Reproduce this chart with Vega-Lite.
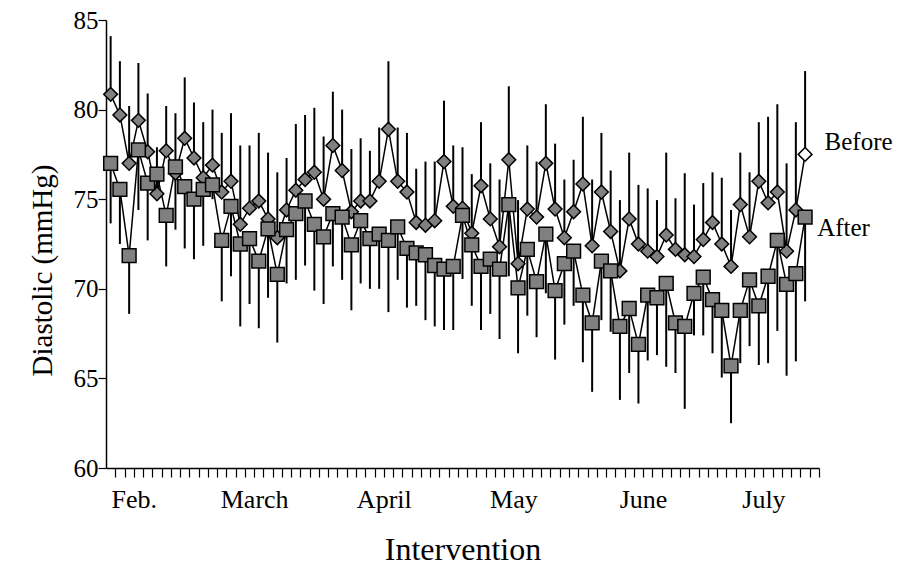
{
  "$schema": "https://vega.github.io/schema/vega-lite/v6.json",
  "width": 713,
  "height": 448,
  "autosize": {"type": "none"},
  "padding": {"left": 106, "top": 20, "right": 82, "bottom": 98},
  "background": "white",
  "config": {
    "view": {"stroke": null},
    "font": "Liberation Serif",
    "axis": {
      "grid": false,
      "domainColor": "black",
      "domainWidth": 1.5,
      "tickColor": "black",
      "tickWidth": 1.2,
      "labelColor": "black",
      "titleColor": "black",
      "labelFont": "Liberation Serif",
      "titleFont": "Liberation Serif",
      "titleFontWeight": "normal"
    }
  },
  "datasets": {
    "bp": [
      {"i": 1, "series": "Before", "value": 80.85, "bar": 84.1},
      {"i": 2, "series": "Before", "value": 79.7, "bar": 82.7},
      {"i": 3, "series": "Before", "value": 77.0, "bar": 80.2},
      {"i": 4, "series": "Before", "value": 79.4, "bar": 82.6},
      {"i": 5, "series": "Before", "value": 77.65, "bar": 80.9},
      {"i": 6, "series": "Before", "value": 75.3, "bar": 77.9},
      {"i": 7, "series": "Before", "value": 77.7, "bar": 80.2},
      {"i": 8, "series": "Before", "value": 76.45, "bar": 79.8},
      {"i": 9, "series": "Before", "value": 78.4, "bar": 81.8},
      {"i": 10, "series": "Before", "value": 77.3, "bar": 80.4},
      {"i": 11, "series": "Before", "value": 76.2, "bar": 79.3},
      {"i": 12, "series": "Before", "value": 76.9, "bar": 80.0},
      {"i": 13, "series": "Before", "value": 75.4, "bar": 78.7},
      {"i": 14, "series": "Before", "value": 76.0, "bar": 79.8},
      {"i": 15, "series": "Before", "value": 73.6, "bar": 78.0},
      {"i": 16, "series": "Before", "value": 74.5, "bar": 78.0},
      {"i": 17, "series": "Before", "value": 74.9, "bar": 78.7},
      {"i": 18, "series": "Before", "value": 73.9, "bar": 77.6},
      {"i": 19, "series": "Before", "value": 72.85, "bar": 76.5},
      {"i": 20, "series": "Before", "value": 74.4, "bar": 77.3},
      {"i": 21, "series": "Before", "value": 75.5, "bar": 79.2},
      {"i": 22, "series": "Before", "value": 76.1, "bar": 79.7},
      {"i": 23, "series": "Before", "value": 76.5, "bar": 80.1},
      {"i": 24, "series": "Before", "value": 75.0, "bar": 78.5},
      {"i": 25, "series": "Before", "value": 78.0, "bar": 81.0},
      {"i": 26, "series": "Before", "value": 76.6, "bar": 80.0},
      {"i": 27, "series": "Before", "value": 74.3, "bar": 77.8},
      {"i": 28, "series": "Before", "value": 74.9, "bar": 78.4},
      {"i": 29, "series": "Before", "value": 74.9, "bar": 77.7},
      {"i": 30, "series": "Before", "value": 76.0, "bar": 79.0},
      {"i": 31, "series": "Before", "value": 78.9, "bar": 82.7},
      {"i": 32, "series": "Before", "value": 76.0, "bar": 79.0},
      {"i": 33, "series": "Before", "value": 75.4, "bar": 78.7},
      {"i": 34, "series": "Before", "value": 73.7, "bar": 76.7},
      {"i": 35, "series": "Before", "value": 73.55, "bar": 77.1},
      {"i": 36, "series": "Before", "value": 73.8, "bar": 77.1},
      {"i": 37, "series": "Before", "value": 77.1, "bar": 80.5},
      {"i": 38, "series": "Before", "value": 74.6, "bar": 78.0},
      {"i": 39, "series": "Before", "value": 74.5, "bar": 77.9},
      {"i": 40, "series": "Before", "value": 73.1, "bar": 76.4},
      {"i": 41, "series": "Before", "value": 75.75, "bar": 79.3},
      {"i": 42, "series": "Before", "value": 73.9, "bar": 77.0},
      {"i": 43, "series": "Before", "value": 72.35, "bar": 76.1},
      {"i": 44, "series": "Before", "value": 77.2, "bar": 81.3},
      {"i": 45, "series": "Before", "value": 71.4, "bar": 74.95},
      {"i": 46, "series": "Before", "value": 74.45, "bar": 78.0},
      {"i": 47, "series": "Before", "value": 74.0, "bar": 77.1},
      {"i": 48, "series": "Before", "value": 77.0, "bar": 80.3},
      {"i": 49, "series": "Before", "value": 74.45, "bar": 78.1},
      {"i": 50, "series": "Before", "value": 72.85, "bar": 76.1},
      {"i": 51, "series": "Before", "value": 74.3, "bar": 77.2},
      {"i": 52, "series": "Before", "value": 75.85, "bar": 79.6},
      {"i": 53, "series": "Before", "value": 72.4, "bar": 76.1},
      {"i": 54, "series": "Before", "value": 75.4, "bar": 78.7},
      {"i": 55, "series": "Before", "value": 73.2, "bar": 76.6},
      {"i": 56, "series": "Before", "value": 71.0, "bar": 74.95},
      {"i": 57, "series": "Before", "value": 73.9, "bar": 77.6},
      {"i": 58, "series": "Before", "value": 72.5, "bar": 75.8},
      {"i": 59, "series": "Before", "value": 72.1, "bar": 75.6},
      {"i": 60, "series": "Before", "value": 71.8, "bar": 74.95},
      {"i": 61, "series": "Before", "value": 73.0, "bar": 77.6},
      {"i": 62, "series": "Before", "value": 72.2, "bar": 75.05},
      {"i": 63, "series": "Before", "value": 71.9, "bar": 76.45},
      {"i": 64, "series": "Before", "value": 71.8, "bar": 74.7},
      {"i": 65, "series": "Before", "value": 72.75, "bar": 75.9},
      {"i": 66, "series": "Before", "value": 73.7, "bar": 76.5},
      {"i": 67, "series": "Before", "value": 72.5, "bar": 76.2},
      {"i": 68, "series": "Before", "value": 71.25, "bar": 74.4},
      {"i": 69, "series": "Before", "value": 74.7, "bar": 77.6},
      {"i": 70, "series": "Before", "value": 72.9, "bar": 76.5},
      {"i": 71, "series": "Before", "value": 76.0, "bar": 79.3},
      {"i": 72, "series": "Before", "value": 74.8, "bar": 79.6},
      {"i": 73, "series": "Before", "value": 75.4, "bar": 80.3},
      {"i": 74, "series": "Before", "value": 72.1, "bar": 77.0},
      {"i": 75, "series": "Before", "value": 74.4, "bar": 79.3},
      {"i": 76, "series": "Before", "value": 77.5, "bar": 82.15},
      {"i": 1, "series": "After", "value": 77.0, "bar": 73.65},
      {"i": 2, "series": "After", "value": 75.55, "bar": 72.5},
      {"i": 3, "series": "After", "value": 71.85, "bar": 68.6},
      {"i": 4, "series": "After", "value": 77.75, "bar": 74.4},
      {"i": 5, "series": "After", "value": 75.9, "bar": 72.7},
      {"i": 6, "series": "After", "value": 76.4, "bar": 75.1},
      {"i": 7, "series": "After", "value": 74.1, "bar": 71.25},
      {"i": 8, "series": "After", "value": 76.8, "bar": 73.3},
      {"i": 9, "series": "After", "value": 75.7, "bar": 72.25},
      {"i": 10, "series": "After", "value": 75.0, "bar": 71.65},
      {"i": 11, "series": "After", "value": 75.55, "bar": 72.4},
      {"i": 12, "series": "After", "value": 75.8, "bar": 75.0},
      {"i": 13, "series": "After", "value": 72.7, "bar": 69.3},
      {"i": 14, "series": "After", "value": 74.6, "bar": 70.7},
      {"i": 15, "series": "After", "value": 72.5, "bar": 67.9},
      {"i": 16, "series": "After", "value": 72.8, "bar": 69.15},
      {"i": 17, "series": "After", "value": 71.55, "bar": 67.8},
      {"i": 18, "series": "After", "value": 73.35, "bar": 69.5},
      {"i": 19, "series": "After", "value": 70.8, "bar": 67.0},
      {"i": 20, "series": "After", "value": 73.3, "bar": 70.3},
      {"i": 21, "series": "After", "value": 74.2, "bar": 70.5},
      {"i": 22, "series": "After", "value": 74.9, "bar": 71.3},
      {"i": 23, "series": "After", "value": 73.6, "bar": 69.9},
      {"i": 24, "series": "After", "value": 72.9, "bar": 69.15},
      {"i": 25, "series": "After", "value": 74.2, "bar": 71.25},
      {"i": 26, "series": "After", "value": 74.0, "bar": 70.5},
      {"i": 27, "series": "After", "value": 72.45, "bar": 68.8},
      {"i": 28, "series": "After", "value": 73.8, "bar": 70.3},
      {"i": 29, "series": "After", "value": 72.8, "bar": 70.0},
      {"i": 30, "series": "After", "value": 73.05, "bar": 70.0},
      {"i": 31, "series": "After", "value": 72.7, "bar": 68.7},
      {"i": 32, "series": "After", "value": 73.45, "bar": 70.5},
      {"i": 33, "series": "After", "value": 72.25, "bar": 68.95},
      {"i": 34, "series": "After", "value": 72.0, "bar": 69.05},
      {"i": 35, "series": "After", "value": 71.9, "bar": 68.25},
      {"i": 36, "series": "After", "value": 71.3, "bar": 67.9},
      {"i": 37, "series": "After", "value": 71.1, "bar": 67.7},
      {"i": 38, "series": "After", "value": 71.25, "bar": 67.7},
      {"i": 39, "series": "After", "value": 74.1, "bar": 70.55},
      {"i": 40, "series": "After", "value": 72.45, "bar": 69.05},
      {"i": 41, "series": "After", "value": 71.25, "bar": 67.7},
      {"i": 42, "series": "After", "value": 71.65, "bar": 68.6},
      {"i": 43, "series": "After", "value": 71.1, "bar": 67.2},
      {"i": 44, "series": "After", "value": 74.7, "bar": 70.7},
      {"i": 45, "series": "After", "value": 70.05, "bar": 66.4},
      {"i": 46, "series": "After", "value": 72.2, "bar": 68.5},
      {"i": 47, "series": "After", "value": 70.4, "bar": 67.3},
      {"i": 48, "series": "After", "value": 73.05, "bar": 69.75},
      {"i": 49, "series": "After", "value": 69.9, "bar": 66.05},
      {"i": 50, "series": "After", "value": 71.4, "bar": 68.0},
      {"i": 51, "series": "After", "value": 72.1, "bar": 69.05},
      {"i": 52, "series": "After", "value": 69.65, "bar": 65.9},
      {"i": 53, "series": "After", "value": 68.1, "bar": 64.25},
      {"i": 54, "series": "After", "value": 71.55, "bar": 68.25},
      {"i": 55, "series": "After", "value": 71.0, "bar": 67.6},
      {"i": 56, "series": "After", "value": 67.9, "bar": 63.8},
      {"i": 57, "series": "After", "value": 68.9, "bar": 65.3},
      {"i": 58, "series": "After", "value": 66.9, "bar": 63.6},
      {"i": 59, "series": "After", "value": 69.65, "bar": 66.0},
      {"i": 60, "series": "After", "value": 69.5, "bar": 66.3},
      {"i": 61, "series": "After", "value": 70.3, "bar": 65.65},
      {"i": 62, "series": "After", "value": 68.1, "bar": 65.3},
      {"i": 63, "series": "After", "value": 67.9, "bar": 63.3},
      {"i": 64, "series": "After", "value": 69.75, "bar": 67.4},
      {"i": 65, "series": "After", "value": 70.65, "bar": 67.4},
      {"i": 66, "series": "After", "value": 69.4, "bar": 66.4},
      {"i": 67, "series": "After", "value": 68.8, "bar": 65.05},
      {"i": 68, "series": "After", "value": 65.7, "bar": 62.5},
      {"i": 69, "series": "After", "value": 68.8, "bar": 65.85},
      {"i": 70, "series": "After", "value": 70.5, "bar": 66.8},
      {"i": 71, "series": "After", "value": 69.05, "bar": 65.75},
      {"i": 72, "series": "After", "value": 70.7, "bar": 65.85},
      {"i": 73, "series": "After", "value": 72.7, "bar": 67.65},
      {"i": 74, "series": "After", "value": 70.25, "bar": 65.15},
      {"i": 75, "series": "After", "value": 70.85, "bar": 65.95},
      {"i": 76, "series": "After", "value": 74.0, "bar": 69.3}
    ],
    "tags": [
      {"label": "Before", "i": 78.1, "value": 78.2},
      {"label": "After", "i": 77.3, "value": 73.4}
    ]
  },
  "encoding": {
    "x": {
      "field": "i",
      "type": "quantitative",
      "scale": {"domain": [0.5, 77.5], "nice": false, "zero": false},
      "axis": {
        "title": "Intervention",
        "titleFontSize": 32,
        "titlePadding": 22,
        "values": [1.5, 2.5, 3.5, 4.5, 5.5, 6.5, 7.5, 8.5, 9.5, 10.5, 11.5, 12.5, 13.5, 14.5, 15.5, 16.5, 17.5, 18.5, 19.5, 20.5, 21.5, 22.5, 23.5, 24.5, 25.5, 26.5, 27.5, 28.5, 29.5, 30.5, 31.5, 32.5, 33.5, 34.5, 35.5, 36.5, 37.5, 38.5, 39.5, 40.5, 41.5, 42.5, 43.5, 44.5, 45.5, 46.5, 47.5, 48.5, 49.5, 50.5, 51.5, 52.5, 53.5, 54.5, 55.5, 56.5, 57.5, 58.5, 59.5, 60.5, 61.5, 62.5, 63.5, 64.5, 65.5, 66.5, 67.5, 68.5, 69.5, 70.5, 71.5, 72.5, 73.5, 74.5, 75.5, 76.5, 77.5],
        "labelExpr": "datum.value == 3.5 ? 'Feb.' : datum.value == 16.5 ? 'March' : datum.value == 30.5 ? 'April' : datum.value == 44.5 ? 'May' : datum.value == 58.5 ? 'June' : datum.value == 71.5 ? 'July' : ''",
        "labelFontSize": 26,
        "labelPadding": 9,
        "labelOverlap": false,
        "labelBound": false,
        "labelFlush": false,
        "tickSize": 9
      }
    },
    "y": {
      "field": "value",
      "type": "quantitative",
      "scale": {"domain": [60, 85], "nice": false, "zero": false},
      "axis": {
        "title": "Diastolic (mmHg)",
        "titleFontSize": 29,
        "titlePadding": 16,
        "titleY": 250,
        "values": [60, 65, 70, 75, 80, 85],
        "labelFontSize": 25,
        "labelPadding": 0,
        "tickSize": 8
      }
    }
  },
  "layer": [
    {
      "data": {"name": "bp"},
      "mark": {"type": "rule", "color": "black", "strokeWidth": 2},
      "encoding": {
        "y2": {"field": "bar"}
      }
    },
    {
      "data": {"name": "bp"},
      "mark": {"type": "line", "color": "black", "strokeWidth": 1.5},
      "encoding": {
        "detail": {"field": "series"}
      }
    },
    {
      "data": {"name": "bp"},
      "mark": {"type": "point", "filled": true, "stroke": "black", "strokeWidth": 1.5, "opacity": 1, "size": 190},
      "encoding": {
        "shape": {
          "field": "series",
          "type": "nominal",
          "scale": {"domain": ["Before", "After"], "range": ["diamond", "square"]},
          "legend": null
        },
        "fill": {
          "condition": {"test": "datum.series === 'Before' && datum.i === 76", "value": "white"},
          "value": "#808080"
        }
      }
    },
    {
      "data": {"name": "tags"},
      "mark": {"type": "text", "align": "left", "baseline": "middle", "fontSize": 25, "font": "Liberation Serif", "color": "black"},
      "encoding": {
        "text": {"field": "label"}
      }
    }
  ]
}
